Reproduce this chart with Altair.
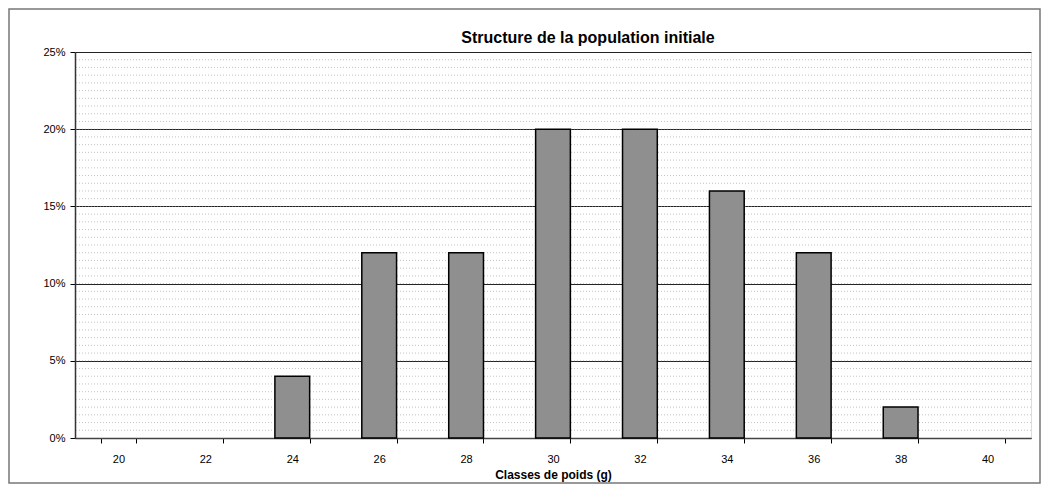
import altair as alt
import pandas as pd

classes = ["20", "22", "24", "26", "28", "30", "32", "34", "36", "38", "40"]
shares = [0.0, 0.0, 0.04, 0.12, 0.12, 0.20, 0.20, 0.16, 0.12, 0.02, 0.0]
y_ticks = [0, 0.05, 0.10, 0.15, 0.20, 0.25]
minor_ticks = [i * 0.005 for i in range(1, 50)]

df = pd.DataFrame({"classe": classes, "part": shares})
df_minor = pd.DataFrame({"v": minor_ticks})

W, H = 956, 386
FONT = "Liberation Sans"

xscale = alt.Scale(domain=classes, paddingInner=0.6, paddingOuter=0.3)
yscale = alt.Scale(domain=[0, 0.25], nice=False)

yaxis = alt.Axis(values=y_ticks, format=".0%", grid=True, gridColor="#222",
                 gridWidth=1, labelFont=FONT, labelFontSize=11, labelPadding=5,
                 labelColor="black", tickColor="black", tickSize=5,
                 domainColor="#333", domainWidth=1.5, title=None)

# fine dotted texture lines
texture = alt.Chart(df_minor).mark_rule(color="#9a9a9a", strokeDash=[1, 2],
                                        strokeWidth=0.6).encode(
    y=alt.Y("v:Q", scale=yscale, axis=yaxis),
)

bars = alt.Chart(df).transform_filter("datum.part > 0").mark_bar(
    fill="#8f8f8f", stroke="black", strokeWidth=1.5).encode(
    x=alt.X("classe:N", scale=xscale, sort=classes,
            axis=alt.Axis(title="Classes de poids (g)", labelAngle=0, tickBand="extent",
                          labelFont=FONT, labelFontSize=11, labelColor="black",
                          labelPadding=10, tickColor="black", tickSize=5,
                          domainColor="#444", domainWidth=1.5,
                          titleFont=FONT, titleFontSize=12, titleFontWeight="bold",
                          titleColor="black", titlePadding=5)),
    y=alt.Y("part:Q", scale=yscale, axis=yaxis),
)

frame = alt.Chart(pd.DataFrame({"k": [0]})).mark_rect(
    fill=None, stroke="#777", strokeWidth=1.5, clip=False
).encode(
    x=alt.value(-66), x2=alt.value(W + 9), y=alt.value(-43), y2=alt.value(H + 45)
)

chart = alt.layer(texture, frame, bars).properties(
    width=W, height=H,
    title=alt.TitleParams("Structure de la population initiale", font=FONT,
                          fontSize=16, fontWeight="bold", color="black",
                          anchor="middle", dx=35, dy=44, offset=6),
    padding={"left": 67, "top": 44, "right": 10, "bottom": 46},
    autosize=alt.AutoSizeParams(type="none"),
).configure_view(fill="#efefef", stroke="#999", strokeWidth=1
).configure(background="white")

chart.save("out.html", embed_options={"renderer": "svg", "actions": False})
